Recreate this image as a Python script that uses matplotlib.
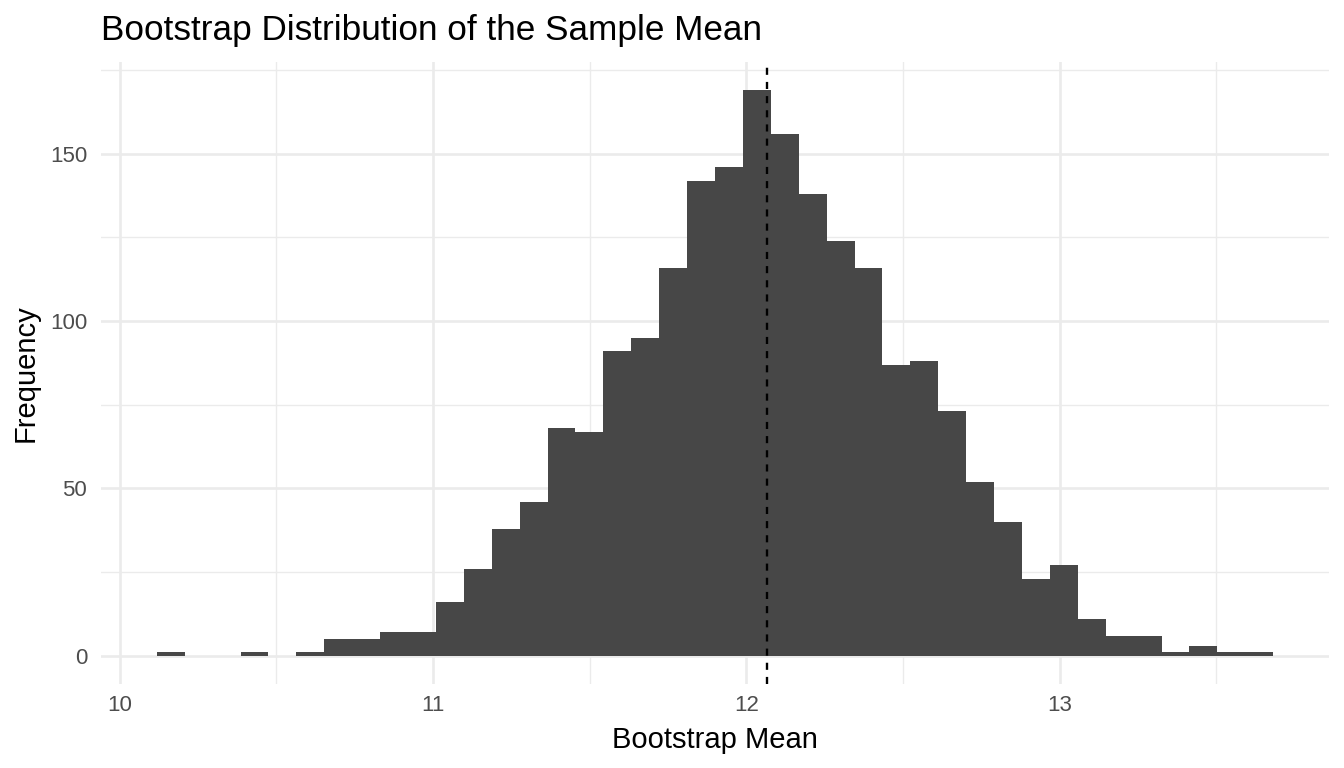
import matplotlib
matplotlib.use("Agg")
import matplotlib.pyplot as plt
import numpy as np
from matplotlib.ticker import MultipleLocator

# histogram of 2000 bootstrap means (40 bins)
bin_start = 10.118
bin_width = 0.0891
counts = [1, 0, 0, 1, 0, 1, 5, 5, 7, 7,
          16, 26, 38, 46, 68, 67, 91, 95, 116, 142,
          146, 169, 156, 138, 124, 116, 87, 88, 73, 52,
          40, 23, 27, 11, 6, 6, 1, 3, 1, 1]
sample_mean = 12.065

title = "Bootstrap Distribution of the Sample Mean"
x_name = "Bootstrap Mean"
y_name = "Frequency"

plt.rcParams["font.family"] = ["Liberation Sans", "DejaVu Sans"]

counts = np.array(counts)
edges = bin_start + bin_width * np.arange(len(counts) + 1)

fig = plt.figure(figsize=(13.44, 7.68), dpi=100)
ax = fig.add_axes([101/1344, 1 - 684/768, 1228/1344, 622/768])

ax.stairs(counts, edges, fill=True, color="#474747", linewidth=0, zorder=2)
ax.axvline(sample_mean, color="black", linewidth=1.7, linestyle=(0, (3.0, 3.0)), zorder=3)

# ggplot-ish 5% expansion
xr = edges[-1] - edges[0]
ax.set_xlim(edges[0] - 0.05*xr, edges[-1] + 0.05*xr)
ymax = counts.max()
ax.set_ylim(-0.05*ymax, 1.05*ymax)

ax.xaxis.set_major_locator(MultipleLocator(1))
ax.xaxis.set_minor_locator(MultipleLocator(0.5))
ax.yaxis.set_major_locator(MultipleLocator(50))
ax.yaxis.set_minor_locator(MultipleLocator(25))

ax.grid(which="major", color="#EBEBEB", linewidth=1.9, zorder=0)
ax.grid(which="minor", color="#EBEBEB", linewidth=1.0, zorder=0)
ax.set_axisbelow(True)
for s in ax.spines.values():
    s.set_visible(False)

ax.tick_params(which="both", length=0)
ax.tick_params(axis="x", labelsize=16, labelcolor="#4D4D4D", pad=8)
ax.tick_params(axis="y", labelsize=16, labelcolor="#4D4D4D", pad=10)

fig.text(101/1344, 1 - 40/768, title, fontsize=25.3, ha="left", va="baseline", color="black")
fig.text((101 + 1228/2)/1344, 20/768, x_name, fontsize=21, ha="center", va="baseline", color="black")
fig.text(26/1344, 1 - 373/768, y_name, fontsize=21, rotation=90, ha="center", va="center", color="black")

fig.savefig("out.png", dpi=100, facecolor="white")
